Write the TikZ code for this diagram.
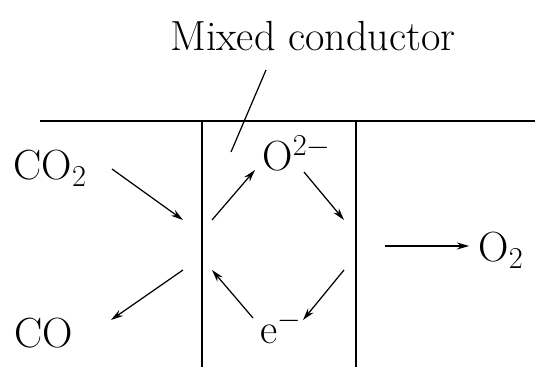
\documentclass[tikz,border=0pt]{standalone}
\usetikzlibrary{arrows.meta}
\begin{document}
\begin{tikzpicture}[x=0.02cm,y=-0.02cm,
  line width=0.7pt,
  lbl/.style={font=\fontsize{24}{28}\selectfont, inner sep=0pt},
  flow/.style={-{Stealth[length=7pt,width=4pt]}}]
  \useasboundingbox (0,0) rectangle (535,367);
  % membrane
  \draw (40,121) -- (535,121);
  \draw (202,121) -- (202,367);
  \draw (356,121) -- (356,367);
  % labels
  \node[lbl] (mixed) at (313,36) {Mixed conductor};
  \coordinate (lead) at (231,152);
  \draw (266,70) -- (lead);
  \node[lbl, anchor=base west] (co2) at (13,180) {CO$_2$};
  \node[lbl, anchor=base west] (co) at (14,348) {CO};
  \node[lbl, anchor=base west] (oion) at (262,171) {O$^{2-}$};
  \node[lbl, anchor=base west] (elec) at (260,344) {e$^-$};
  \node[lbl, anchor=base west] (o2) at (478,262) {O$_2$};
  % free ends at the surfaces
  \coordinate (inL) at (183,220);
  \coordinate (outL) at (183,270);
  \coordinate (upL) at (212,220);
  \coordinate (dnL) at (212,270);
  \coordinate (upR) at (344,220);
  \coordinate (dnR) at (344,270);
  \coordinate (gas) at (385,246);
  % reactions
  \draw[flow] (112,169) -- (inL);
  \draw[flow] (outL) -- (111,320);
  \draw[flow] (upL) -- (255,170);
  \draw[flow] (304,172) -- (upR);
  \draw[flow] (dnR) -- (303,320);
  \draw[flow] (253,318) -- (dnL);
  \draw[flow, shorten >=5pt] (gas) -- (o2.west |- gas);
\end{tikzpicture}
\end{document}
